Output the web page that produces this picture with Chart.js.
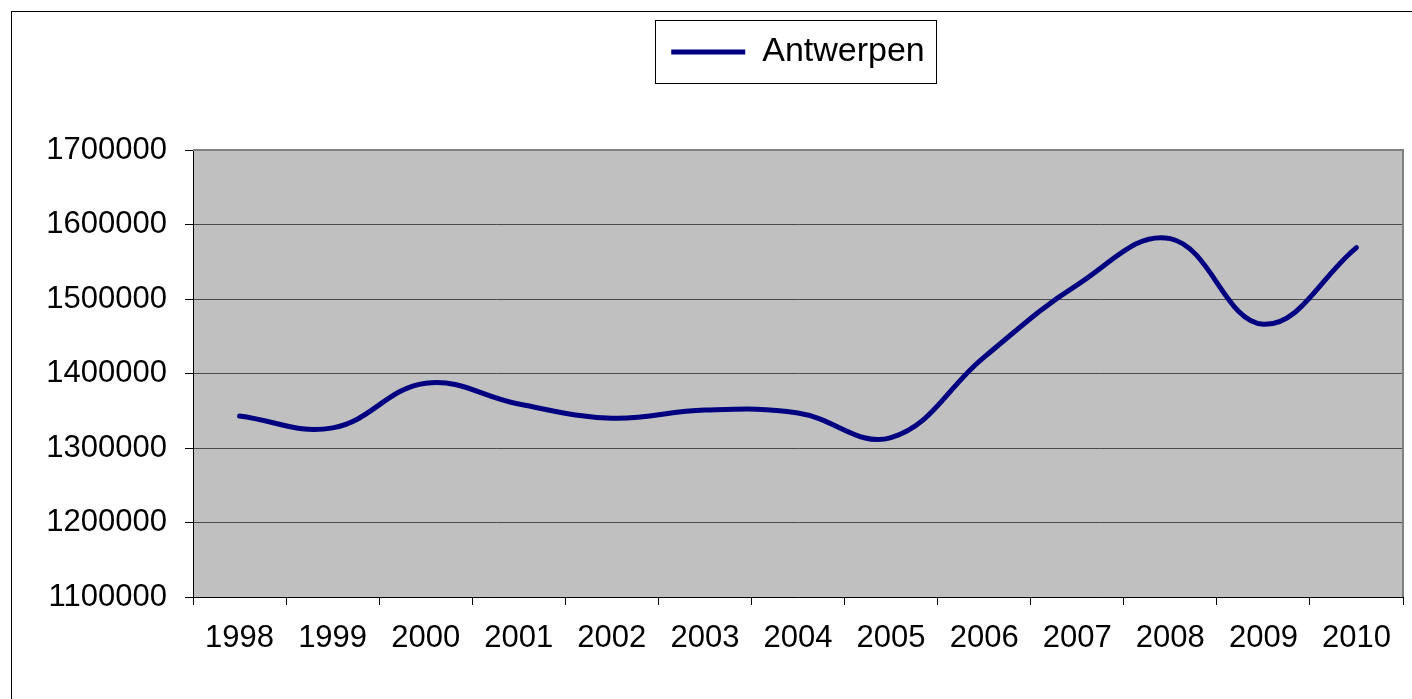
<!DOCTYPE html>
<html>
<head>
<meta charset="utf-8">
<script src="https://cdn.jsdelivr.net/npm/chart.js@4"></script>
<style>
  html, body { margin: 0; padding: 0; background: #fff; }
  #wrap { position: relative; width: 1412px; height: 699px; }
  #frame { position: absolute; left: 11px; top: 11px; right: 0; bottom: 0;
           border-left: 1px solid #000; border-top: 1px solid #000; pointer-events: none; }
</style>
</head>
<body>
<div id="wrap">
  <canvas id="chart" width="1412" height="699"></canvas>
  <div id="frame"></div>
</div>
<script>
// jaren (categorieën)
const years = ['1998', '1999', '2000', '2001', '2002', '2003', '2004',
               '2005', '2006', '2007', '2008', '2009', '2010'];
// waarden Antwerpen
const antwerpen = [1343000, 1327000, 1387000, 1359000, 1340000, 1351000, 1347000,
                   1314000, 1422000, 1519000, 1581000, 1466000, 1569000];
// y-as
const yMin = 1100000;
const yMax = 1700000;
const yStep = 100000;

const FONT = '"Liberation Sans", Arial, sans-serif';
const LEGEND_EXTRA = 71; // extra ruimte onder de legende

// grijze achtergrond + rand van het plotgebied, kader rond de legende
const plotBackground = {
    id: 'plotBackground',
    beforeLayout(chart) {
        const lg = chart.legend;
        if (lg && !lg._extraPatched) {
            const fit = lg.fit.bind(lg);
            lg.fit = function () { fit(); this.height += LEGEND_EXTRA; };
            lg._extraPatched = true;
        }
    },
    beforeDraw(chart) {
        const { ctx, chartArea: a } = chart;
        ctx.save();
        ctx.fillStyle = '#c0c0c0';
        ctx.fillRect(a.left, a.top, a.right - a.left, a.bottom - a.top);
        ctx.restore();
    },
    afterDatasetsDraw(chart) {
        const { ctx, chartArea: a } = chart;
        ctx.save();
        ctx.strokeStyle = '#808080';
        ctx.lineWidth = 2;
        ctx.beginPath();
        ctx.moveTo(a.left, a.top);
        ctx.lineTo(a.right, a.top);
        ctx.lineTo(a.right, a.bottom);
        ctx.stroke();
        ctx.restore();
    },
    afterDraw(chart) {
        const hb = chart.legend.legendHitBoxes[0];
        if (!hb) return;
        const ctx = chart.ctx;
        ctx.save();
        ctx.strokeStyle = '#000';
        ctx.lineWidth = 1;
        const l = Math.round(hb.left - 16);
        const r = Math.round(hb.left + hb.width + 11);
        const t = Math.round(hb.top + hb.height / 2 - 32);
        ctx.strokeRect(l + 0.5, t + 0.5, r - l, 63);
        ctx.restore();
    }
};

new Chart(document.getElementById('chart'), {
    type: 'line',
    data: {
        labels: years,
        datasets: [{
            label: 'Antwerpen',
            data: antwerpen,
            borderColor: '#000080',
            backgroundColor: '#000080',
            borderWidth: 5,
            borderCapStyle: 'round',
            borderJoinStyle: 'round',
            tension: 0.4,
            pointRadius: 0,
            pointHoverRadius: 0,
            fill: false
        }]
    },
    options: {
        responsive: false,
        animation: false,
        events: [],
        layout: { padding: { top: 25, right: 9, left: 0, bottom: 0 } },
        plugins: {
            tooltip: { enabled: false },
            legend: {
                position: 'top',
                fullSize: false,
                labels: {
                    usePointStyle: true,
                    pointStyle: 'line',
                    pointStyleWidth: 74,
                    boxHeight: 34,
                    padding: 10,
                    color: '#000',
                    font: { family: FONT, size: 34 }
                }
            }
        },
        scales: {
            x: {
                type: 'category',
                offset: true,
                grid: {
                    offset: true,
                    drawOnChartArea: false,
                    drawTicks: true,
                    tickLength: 8,
                    tickColor: '#000'
                },
                border: { display: true, color: '#000', width: 1 },
                ticks: {
                    color: '#000',
                    font: { family: FONT, size: 31 },
                    padding: 15,
                    maxRotation: 0,
                    autoSkip: false
                },
                afterFit(scale) { scale.height = 102; }
            },
            y: {
                min: yMin,
                max: yMax,
                ticks: {
                    stepSize: yStep,
                    color: '#000',
                    font: { family: FONT, size: 31 },
                    padding: 18,
                    callback: v => String(v)
                },
                grid: {
                    color: '#4a4a4a',
                    tickColor: '#000',
                    tickLength: 8,
                    lineWidth: 1
                },
                border: { display: true, color: '#000', width: 1 },
                afterFit(scale) { scale.width = 193; }
            }
        }
    },
    plugins: [plotBackground]
});
</script>
</body>
</html>
